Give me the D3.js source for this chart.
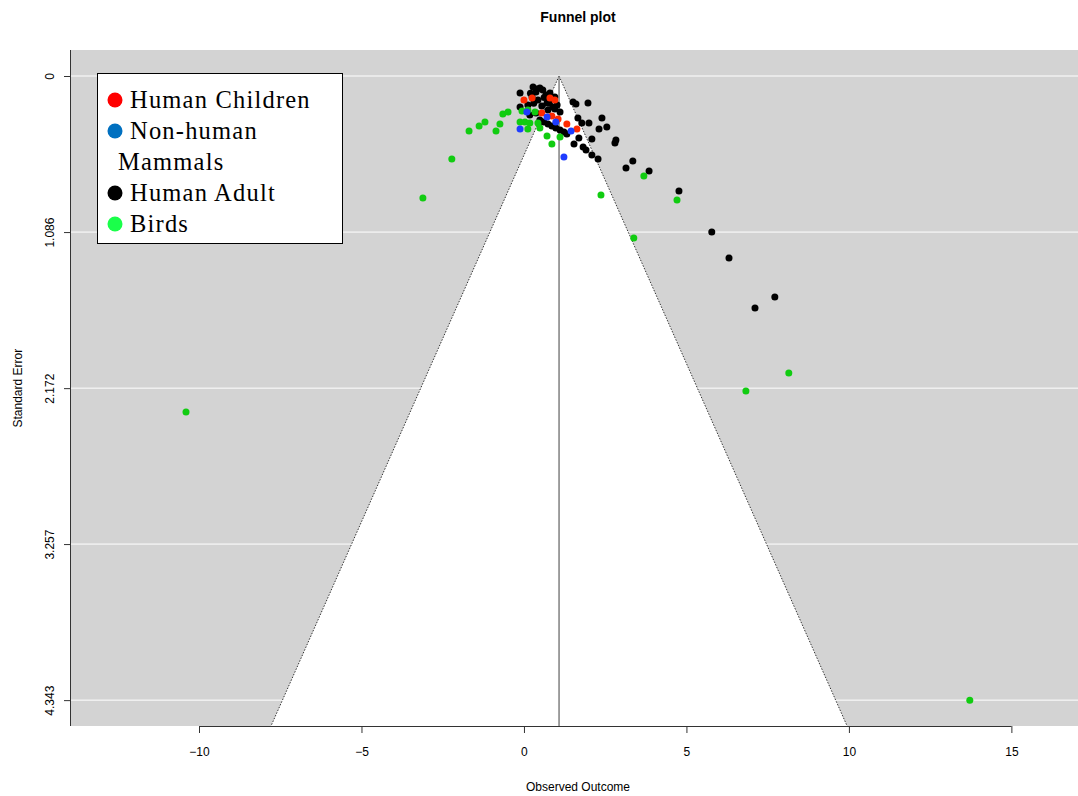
<!DOCTYPE html>
<html>
<head>
<meta charset="utf-8">
<script src="https://d3js.org/d3.v7.min.js"></script>
<style>
  body { margin: 0; background: #fff; }
  text { font-family: "Liberation Sans", Arial, sans-serif; }
</style>
</head>
<body>
<div id="plot"></div>
<script>
// Data: [observed outcome, standard error]
var humanChildren = [
  [0.00, 0.167], [0.25, 0.153], [0.80, 0.153], [0.95, 0.167], [0.55, 0.257],
  [0.86, 0.278], [1.05, 0.299], [1.32, 0.334], [1.63, 0.369]
];
var nonHumanMammals = [
  [-0.12, 0.369], [0.09, 0.251], [0.71, 0.285], [0.98, 0.320], [1.45, 0.383], [1.23, 0.564]
];
var humanAdult = [
  [-0.12, 0.118], [0.28, 0.077], [0.58, 0.097], [0.80, 0.118], [0.95, 0.146], [0.25, 0.146],
  [0.43, 0.167], [0.71, 0.188], [0.89, 0.216], [-0.12, 0.216], [0.12, 0.202], [0.37, 0.111],
  [0.49, 0.084], [0.68, 0.132], [1.02, 0.202], [1.11, 0.251], [0.18, 0.271], [0.37, 0.257],
  [0.55, 0.209], [0.74, 0.237], [0.49, 0.306], [0.61, 0.320], [0.74, 0.334], [0.86, 0.348],
  [0.98, 0.362], [1.11, 0.376], [1.23, 0.390], [1.32, 0.404], [1.51, 0.181], [1.60, 0.195],
  [1.97, 0.188], [1.66, 0.292], [1.78, 0.327], [2.00, 0.327], [2.40, 0.292], [2.55, 0.355],
  [2.31, 0.369], [2.09, 0.438], [1.69, 0.431], [1.54, 0.473], [1.82, 0.494], [1.91, 0.515],
  [2.09, 0.550], [2.28, 0.578], [2.80, 0.466], [2.83, 0.445], [3.35, 0.592], [3.14, 0.640],
  [3.85, 0.661], [4.77, 0.800], [5.78, 1.086], [6.31, 1.267], [7.72, 1.538], [7.11, 1.614],
  [0.40, 0.090], [0.62, 0.150], [0.30, 0.190], [0.95, 0.230], [0.20, 0.120], [0.78, 0.190]
];
var birds = [
  [-10.40, 2.338], [-3.11, 0.849], [-2.22, 0.578], [-1.69, 0.383], [-1.38, 0.348],
  [-1.20, 0.320], [-0.86, 0.383], [-0.74, 0.334], [-0.65, 0.264], [-0.49, 0.251],
  [-0.06, 0.244], [0.12, 0.237], [0.34, 0.251], [-0.12, 0.320], [0.03, 0.320],
  [0.18, 0.327], [0.12, 0.369], [0.43, 0.327], [0.49, 0.362], [0.71, 0.418],
  [0.86, 0.473], [1.11, 0.424], [2.37, 0.828], [3.38, 1.127], [3.69, 0.696],
  [4.71, 0.863], [6.83, 2.192], [8.15, 2.067], [13.72, 4.343]
];

var estimate = 1.08;                 // pooled estimate (vertical line)
var xTicks = [-10, -5, 0, 5, 10, 15];
var yTicks = [0, 1.086, 2.172, 3.257, 4.343];
var yTickLabels = ["0", "1.086", "2.172", "3.257", "4.343"];
var legendLabels = [["Human Children"], ["Non-human", "Mammals"], ["Human Adult"], ["Birds"]];
var legendColors = ["#ff0000", "#0070c0", "#000000", "#1aff4a"];

var width = 1078, height = 796;
var plot = {left: 70, right: 1078, top: 50, bottom: 726};

var svg = d3.select("div#plot").append("svg")
    .attr("width", width)
    .attr("height", height);

var x = d3.scaleLinear().domain([-13.97, 17.05]).range([plot.left, plot.right]);
var y = d3.scaleLinear().domain([-0.181, 4.523]).range([plot.top, plot.bottom]);
var seMax = y.domain()[1];

// Grey background of the plot region
svg.append("rect")
    .attr("x", plot.left).attr("y", plot.top)
    .attr("width", plot.right - plot.left).attr("height", plot.bottom - plot.top)
    .attr("fill", "#d3d3d3");

// White gridlines at the y ticks
svg.selectAll("line.grid")
  .data(yTicks)
  .enter().append("line")
    .attr("class", "grid")
    .attr("x1", plot.left).attr("x2", plot.right)
    .attr("y1", function(d) { return y(d); })
    .attr("y2", function(d) { return y(d); })
    .attr("stroke", "#ffffff")
    .attr("stroke-width", 1);

// Funnel (95% region)
var funnel = [[estimate, 0], [estimate - 1.96 * seMax, seMax], [estimate + 1.96 * seMax, seMax]];
svg.append("path")
    .attr("d", d3.line().x(function(d) { return x(d[0]); }).y(function(d) { return y(d[1]); })(funnel) + "Z")
    .attr("fill", "#ffffff");

svg.selectAll("line.edge")
  .data([funnel[1], funnel[2]])
  .enter().append("line")
    .attr("class", "edge")
    .attr("x1", x(estimate)).attr("y1", y(0))
    .attr("x2", function(d) { return x(d[0]); })
    .attr("y2", function(d) { return y(d[1]); })
    .attr("stroke", "#333")
    .attr("stroke-width", 1)
    .attr("stroke-dasharray", "1.5,1.5");

// Vertical line at the estimate
svg.append("line")
    .attr("x1", x(estimate)).attr("x2", x(estimate))
    .attr("y1", y(0)).attr("y2", y(seMax))
    .attr("stroke", "#808080")
    .attr("stroke-width", 1.5);

// Points
var groups = [
  {data: humanAdult, color: "#000000"},
  {data: birds, color: "#11cc11"},
  {data: humanChildren, color: "#ff2a00"},
  {data: nonHumanMammals, color: "#1e3cff"}
];
groups.forEach(function(g) {
  svg.append("g").selectAll("circle")
    .data(g.data)
    .enter().append("circle")
      .attr("cx", function(d) { return x(d[0]); })
      .attr("cy", function(d) { return y(d[1]); })
      .attr("r", 3.5)
      .attr("fill", g.color);
});

// X axis
var xAxis = svg.append("g")
    .attr("transform", "translate(0," + plot.bottom + ")")
    .call(d3.axisBottom(x).tickValues(xTicks).tickSize(7).tickPadding(14).tickSizeOuter(0));
xAxis.select(".domain").attr("d", "M" + x(-10) + ",0.5H" + x(15));
xAxis.selectAll("text").style("font-size", "12px").attr("fill", "#000");
xAxis.selectAll("line, path").attr("stroke", "#333");

// Y axis
var yAxis = svg.append("g")
    .attr("transform", "translate(" + plot.left + ",0)")
    .call(d3.axisLeft(y).tickValues(yTicks).tickFormat(function(d, i) { return yTickLabels[i]; })
      .tickSize(6).tickSizeOuter(0));
yAxis.select(".domain").attr("d", "M0.5," + plot.top + "V" + plot.bottom);
yAxis.selectAll("line, path").attr("stroke", "#333");
yAxis.selectAll("text")
    .style("font-size", "12px")
    .attr("fill", "#000")
    .attr("text-anchor", "middle")
    .attr("transform", "translate(-20,0) rotate(-90)")
    .attr("x", 0).attr("y", 0).attr("dy", "0.35em");

// Titles
svg.append("text")
    .attr("x", 578).attr("y", 22)
    .attr("text-anchor", "middle")
    .attr("font-weight", "bold")
    .style("font-size", "14px")
    .text("Funnel plot");

svg.append("text")
    .attr("x", 578).attr("y", 791)
    .attr("text-anchor", "middle")
    .style("font-size", "12px")
    .text("Observed Outcome");

svg.append("text")
    .attr("transform", "translate(22," + y(2.172) + ") rotate(-90)")
    .attr("text-anchor", "middle")
    .style("font-size", "12px")
    .text("Standard Error");

// Legend
var legend = svg.append("g");
legend.append("rect")
    .attr("x", 97.5).attr("y", 73.5)
    .attr("width", 245).attr("height", 170)
    .attr("fill", "#ffffff")
    .attr("stroke", "#000")
    .attr("stroke-width", 1);

var rowY = [100, 131, 193, 224];
legendLabels.forEach(function(lines, i) {
  legend.append("circle")
      .attr("cx", 115).attr("cy", rowY[i])
      .attr("r", 7.5)
      .attr("fill", legendColors[i]);
  lines.forEach(function(t, j) {
    legend.append("text")
        .attr("x", j === 0 ? 130 : 118)
        .attr("y", rowY[i] + j * 31 + 8)
        .style("font-family", "'Liberation Serif', 'Times New Roman', serif")
        .style("font-size", "24.5px")
        .style("letter-spacing", "1.2px")
        .text(t);
  });
});
</script>
</body>
</html>
